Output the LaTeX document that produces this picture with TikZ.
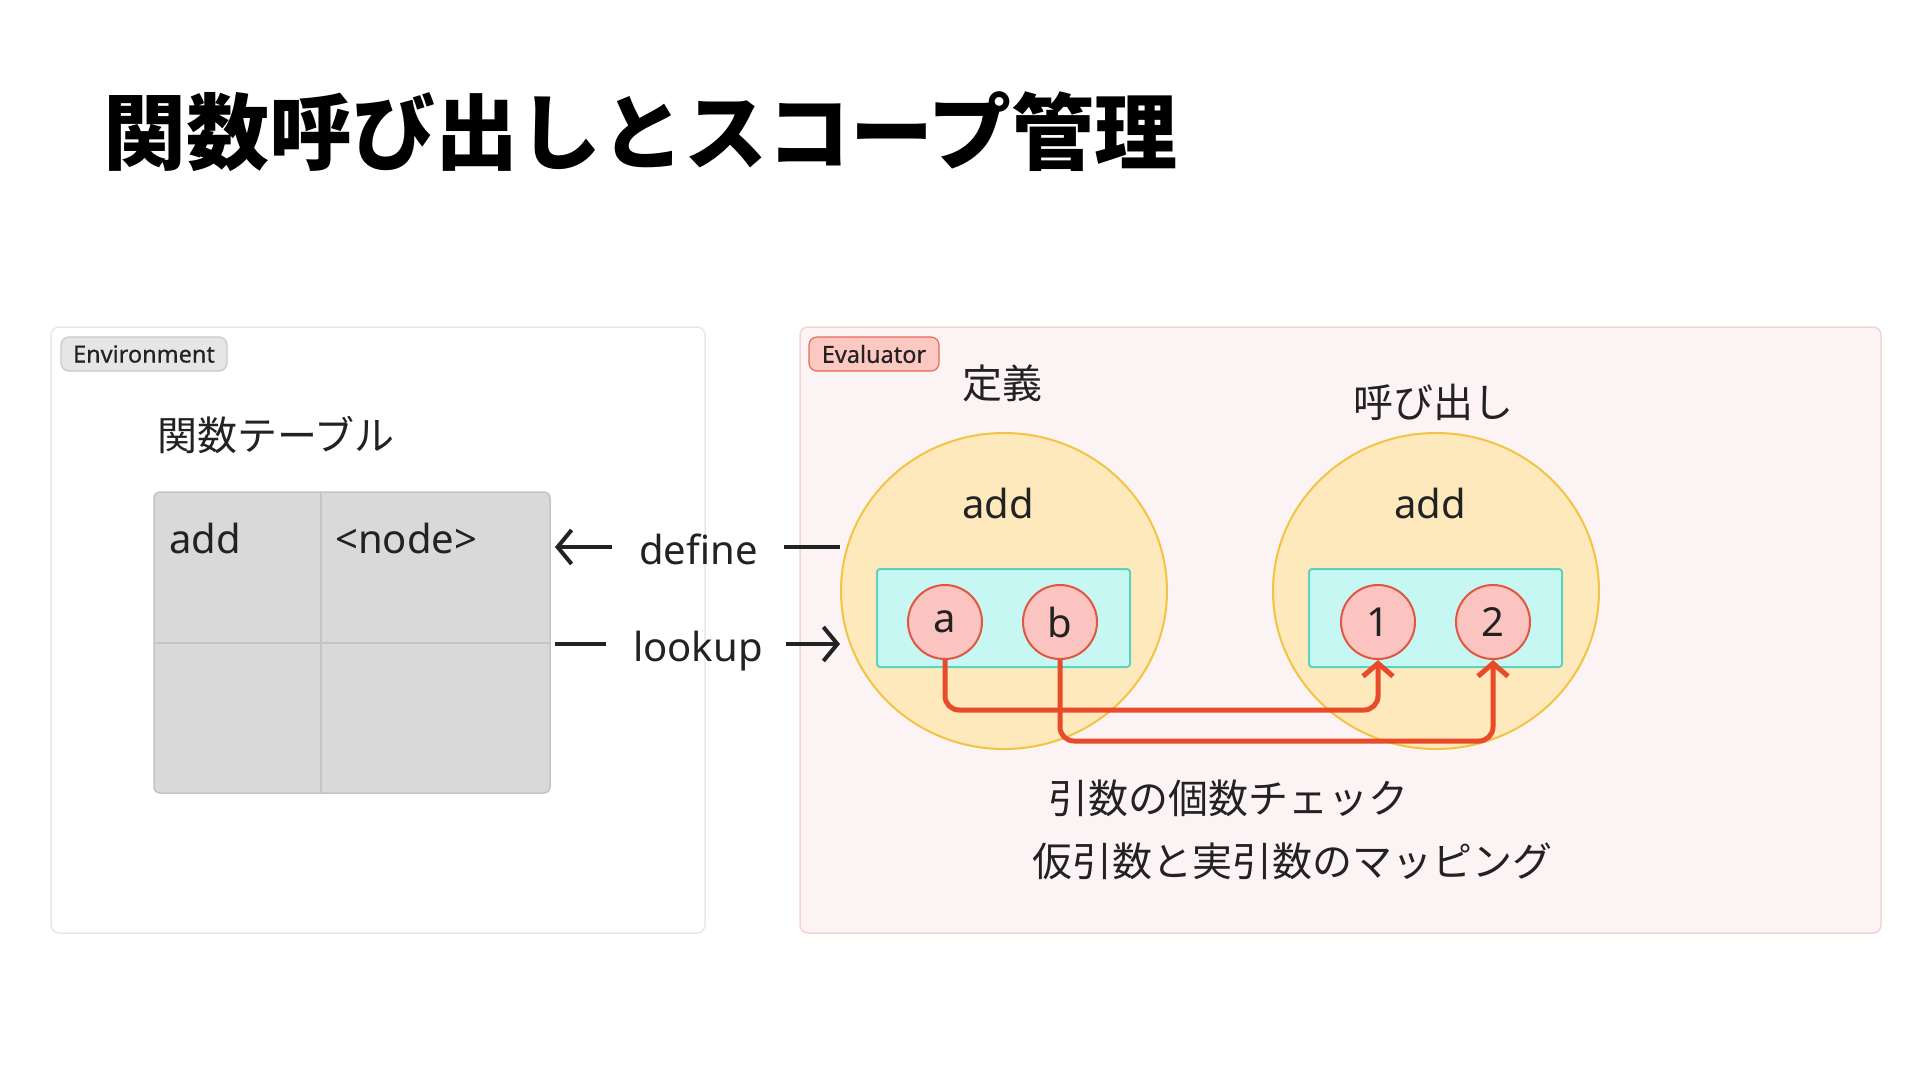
\documentclass[tikz,border=0pt]{standalone}
\usepackage{fontspec}
\setmainfont{Noto Sans CJK JP}
\newfontfamily\lat{Noto Sans}
\newfontfamily\latmed[FakeBold=0.5]{Noto Sans}
\usetikzlibrary{shapes.geometric,arrows.meta,calc}
\definecolor{ink}{HTML}{222222}
\definecolor{envline}{HTML}{E8E8E8}
\definecolor{evalfill}{HTML}{FCF3F4}
\definecolor{evalline}{HTML}{F6D3D3}
\definecolor{pillgray}{HTML}{E6E6E6}
\definecolor{pillgrayline}{HTML}{C8C8C8}
\definecolor{pillred}{HTML}{FBC8C2}
\definecolor{pillredline}{HTML}{E8685A}
\definecolor{tablefill}{HTML}{D9D9D9}
\definecolor{tableline}{HTML}{C4C4C4}
\definecolor{yelfill}{HTML}{FDE9BB}
\definecolor{yelline}{HTML}{F3C443}
\definecolor{cyanfill}{HTML}{C7F7F3}
\definecolor{cyanline}{HTML}{5DD3BF}
\definecolor{argfill}{HTML}{FBC4C0}
\definecolor{argline}{HTML}{E0563F}
\definecolor{maparrow}{HTML}{E84A2A}
\begin{document}
\begin{tikzpicture}[x=1pt,y=-1pt,
  panel/.style={draw, rounded corners=8, line width=1.5, inner sep=0},
  pill/.style={draw, rounded corners=8, line width=1.2, minimum height=34, inner sep=0, font=\latmed\fontsize{23.5}{27}\selectfont, text=ink},
  lbl/.style={font=\lat\fontsize{40}{48}\selectfont, text=ink, inner sep=0},
  jlbl/.style={font=\fontsize{40}{48}\selectfont, text=ink, inner sep=0},
  scopeov/.style={ellipse, draw=yelline, fill=yelfill, line width=2, minimum width=326, minimum height=316, inner sep=0},
  argbox/.style={rectangle, rounded corners=3, draw=cyanline, fill=cyanfill, line width=2, minimum width=253, minimum height=98, inner sep=0},
  argc/.style={circle, draw=argline, fill=argfill, line width=2, minimum size=74, inner sep=0, font=\lat\fontsize{40}{48}\selectfont, text=ink},
  maparr/.style={draw=maparrow, line width=5, rounded corners=14, -{Straight Barb[length=13pt,width=30pt,line width=5pt]}},
  blk/.style={draw=ink, line width=4},
  blkarr/.style={draw=ink, line width=4, -{Straight Barb[length=14pt,width=34pt,line width=4pt]}}
]
\useasboundingbox (0,0) rectangle (1920,1080);
\fill[white] (0,0) rectangle (1920,1080);

% title
\node[anchor=west, inner sep=0, font=\bfseries\fontsize{83}{96}\selectfont, text=black] (title) at (103,132) {関数呼び出しとスコープ管理};

% panels
\node[panel, draw=envline, fill=white, minimum width=654, minimum height=606] (env) at (378,630) {};
\node[panel, draw=evalline, fill=evalfill, minimum width=1081, minimum height=606] (eval) at (1340.5,630) {};
\node[pill, draw=pillgrayline, fill=pillgray, minimum width=166] (envpill) at (144,354) {Environment};
\node[pill, draw=pillredline, fill=pillred, minimum width=130] (evalpill) at (874,354) {Evaluator};

% function table
\node[jlbl, anchor=west] (tabtitle) at (157,435) {関数テーブル};
\node[draw=tableline, fill=tablefill, rounded corners=6, line width=1.5, minimum width=396, minimum height=301, inner sep=0] (table) at (352,642.5) {};
\draw[tableline, line width=1.5] (321,492) -- (321,793);
\draw[tableline, line width=1.5] (154,643) -- (550,643);
\node[lbl, anchor=base west] (tadd) at (169,553) {add};
\node[lbl, anchor=base west] (tnode) at (335,553) {<node>};

% scopes
\node[scopeov] (defc) at (1004,591) {};
\node[scopeov] (callc) at (1436,591) {};
\node[jlbl] (defl) at (1002,383) {定義};
\node[jlbl] (calll) at (1433,402) {呼び出し};
\node[lbl, anchor=base] (dadd) at (998,518) {add};
\node[lbl, anchor=base] (cadd) at (1430,518) {add};
\node[argbox] (defargs) at (1003.5,618) {};
\node[argbox] (callargs) at (1435.5,618) {};

% define / lookup
\node[lbl, anchor=base west] (define) at (639,564) {define};
\node[lbl, anchor=base west] (lookup) at (633,661) {lookup};
\coordinate (defTip) at (555,547);
\coordinate (defStart) at (612,547);
\coordinate (defLineL) at (784,547);
\coordinate (lkLineL) at (555,644);
\coordinate (lkLineR) at (606,644);
\coordinate (lkStart) at (786,644);
\draw[blkarr] (defStart) -- (defTip);
\draw[blk] (defLineL) -- (defc.west |- defLineL);
\draw[blk] (lkLineL) -- (lkLineR);
\draw[blkarr] (lkStart) -- (defc.west |- lkStart);

% args
\coordinate (laneA) at (0,710);
\coordinate (laneB) at (0,741);
\node[argc] (a) at (945,622) {\raisebox{-3pt}{a}};
\node[argc] (b) at (1060,622) {b};
\node[argc] (one) at (1378,622) {1};
\node[argc] (two) at (1493,622) {2};
\draw[maparr] (a.south) -- (a.south |- laneA) -| (one.south);
\draw[maparr] (b.south) -- (b.south |- laneB) -| (two.south);

% notes
\node[jlbl, anchor=west] (note1) at (1048,798) {引数の個数チェック};
\node[jlbl, anchor=west] (note2) at (1032,861) {仮引数と実引数のマッピング};
\end{tikzpicture}
\end{document}
